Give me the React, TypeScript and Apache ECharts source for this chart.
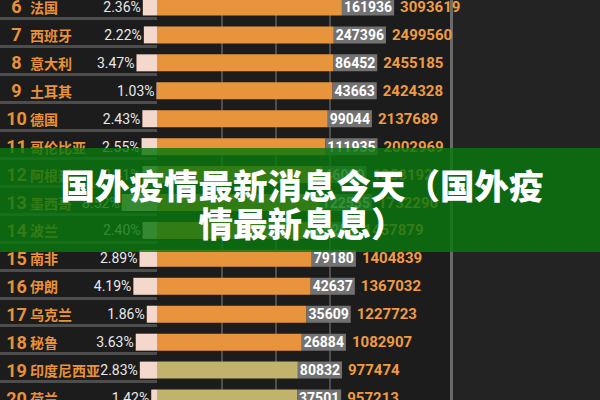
import React, { useEffect, useRef } from 'react';
import * as echarts from 'echarts';

const ranks = [6, 7, 8, 9, 10, 11, 12, 13, 14, 15, 16, 17, 18, 19, 20];
const countries = ['法国', '西班牙', '意大利', '土耳其', '德国', '哥伦比亚', '阿根廷', '墨西哥', '波兰', '南非', '伊朗', '乌克兰', '秘鲁', '印度尼西亚', '荷兰'];
const rates = [2.36, 2.22, 3.47, 1.03, 2.43, 2.55, 2.41, 8.52, 2.40, 2.89, 4.19, 1.86, 3.63, 2.83, 1.42];
const deaths = [161936, 247396, 86452, 43663, 99044, 111935, 46000, 122555, 35253, 79180, 42637, 35609, 26884, 80832, 37501];
const totals = [3093619, 2499560, 2455185, 2424328, 2137689, 2002969, 1853192, 1732290, 1457879, 1404839, 1367032, 1227723, 1082907, 977474, 957213];
const groups = ['a', 'a', 'a', 'a', 'a', 'a', 'a', 'a', 'a', 'a', 'a', 'a', 'a', 'b', 'b'];
const titleLines = ['国外疫情最新消息今天（国外疫', '情最新息息）'];

const groupColor: Record<string, string> = { a: '#e8943c', b: '#c2b36c' };
const ORANGE_TXT = '#e8923a';
const CJK = '"Noto Sans CJK SC", sans-serif';
const NUM = 'Roboto, "Noto Sans", sans-serif';

const GRID_TOP = -7;
const GRID_H = 419;

export default function App() {
  const ref = useRef<HTMLDivElement>(null);
  useEffect(() => {
    document.body.style.margin = '0';
    if (!ref.current) return;
    const chart = echarts.init(ref.current, null, { renderer: 'svg' });
    const hiddenAxis = { show: false };
    const gridBase = { outerBoundsMode: 'none', containLabel: false };
    const option: any = {
      animation: false,
      backgroundColor: '#1c1c1c',
      grid: [
        // 0: row stripes in label area
        { ...gridBase, left: 0, width: 157, top: GRID_TOP - 2.5, height: GRID_H },
        // 1: pink rate bars + row labels
        { ...gridBase, left: 119, width: 38, top: GRID_TOP, height: GRID_H },
        // 2: orange total bars
        { ...gridBase, left: 157, width: 295, top: GRID_TOP, height: GRID_H },
        // 3: vertical grid lines
        { ...gridBase, left: 222, width: 108, top: GRID_TOP, height: GRID_H },
      ],
      xAxis: [
        { gridIndex: 0, type: 'value', ...hiddenAxis },
        { gridIndex: 1, type: 'log', min: 1, max: 10, inverse: true, ...hiddenAxis },
        { gridIndex: 2, type: 'log', min: 24600, max: 55000000, ...hiddenAxis },
        {
          gridIndex: 3, type: 'value', min: 0, max: 2, interval: 1,
          axisLine: { show: false }, axisTick: { show: false }, axisLabel: { show: false },
          splitLine: { show: true, lineStyle: { color: '#4e4e4e', width: 2 } },
        },
      ],
      yAxis: [
        {
          gridIndex: 0, type: 'category', inverse: true, data: countries,
          axisLine: { show: false }, axisTick: { show: false }, axisLabel: { show: false },
          splitLine: { show: true, interval: 0, lineStyle: { color: '#4d4d4d', width: 3 } },
        },
        {
          gridIndex: 1, type: 'category', inverse: true, data: countries,
          axisLine: { show: false }, axisTick: { show: false },
          axisLabel: {
            show: true, interval: 0, align: 'left', margin: 116,
            formatter: (v: string, i: number) => `{r|${ranks[i]}}{c|${v}}`,
            rich: {
              r: { width: 27, align: 'center', fontSize: 18, fontWeight: 'bold', color: ORANGE_TXT, fontFamily: NUM },
              c: { fontSize: 14, fontWeight: 'bold', color: ORANGE_TXT, fontFamily: CJK },
            },
          },
        },
        { gridIndex: 2, type: 'category', inverse: true, data: countries, ...hiddenAxis },
        { gridIndex: 3, type: 'value', ...hiddenAxis },
      ],
      series: [
        {
          type: 'bar', xAxisIndex: 1, yAxisIndex: 1, data: rates, barWidth: 17, z: 2,
          itemStyle: { color: '#f3d8cb' },
          label: {
            show: true, position: 'left', distance: 2,
            formatter: (p: any) => `${rates[p.dataIndex].toFixed(2)}%`,
            color: '#e8e8e8', fontSize: 14, fontFamily: NUM,
          },
        },
        {
          type: 'bar', xAxisIndex: 2, yAxisIndex: 2, barWidth: 17, z: 3,
          data: totals.map((v, i) => ({ value: v, itemStyle: { color: groupColor[groups[i]] } })),
          label: {
            show: true, position: 'right', distance: 0,
            formatter: (p: any) => `{d|${deaths[p.dataIndex]}}{t|${totals[p.dataIndex]}}`,
            rich: {
              d: {
                backgroundColor: '#727272', color: '#ffffff', fontWeight: 'bold', fontSize: 14,
                fontFamily: NUM, padding: [0, 2], height: 17, lineHeight: 17,
              },
              t: { color: '#ef9b43', fontWeight: 'bold', fontSize: 15, fontFamily: NUM, padding: [0, 0, 0, 6] },
            },
          },
        },
      ],
      graphic: [
        { type: 'rect', z: 0, shape: { x: 452, y: 0, width: 148, height: 400 }, style: { fill: '#232323' } },
        { type: 'rect', z: 1, shape: { x: 450, y: 0, width: 3, height: 400 }, style: { fill: '#6a6a6a' } },
        { type: 'rect', z: 100, shape: { x: 0, y: 148, width: 600, height: 104 }, style: { fill: 'rgba(10,118,14,0.82)' } },
        {
          type: 'text', z: 101, x: 302, y: 184,
          style: { text: titleLines[0], fill: '#ffffff', font: `900 34.5px ${CJK}`, textAlign: 'center', textVerticalAlign: 'middle' },
        },
        {
          type: 'text', z: 101, x: 302, y: 222,
          style: { text: titleLines[1], fill: '#ffffff', font: `900 34.5px ${CJK}`, textAlign: 'center', textVerticalAlign: 'middle' },
        },
      ],
    };
    chart.setOption(option);
    return () => chart.dispose();
  }, []);
  return <div ref={ref} style={{ width: 600, height: 400 }} />;
}
